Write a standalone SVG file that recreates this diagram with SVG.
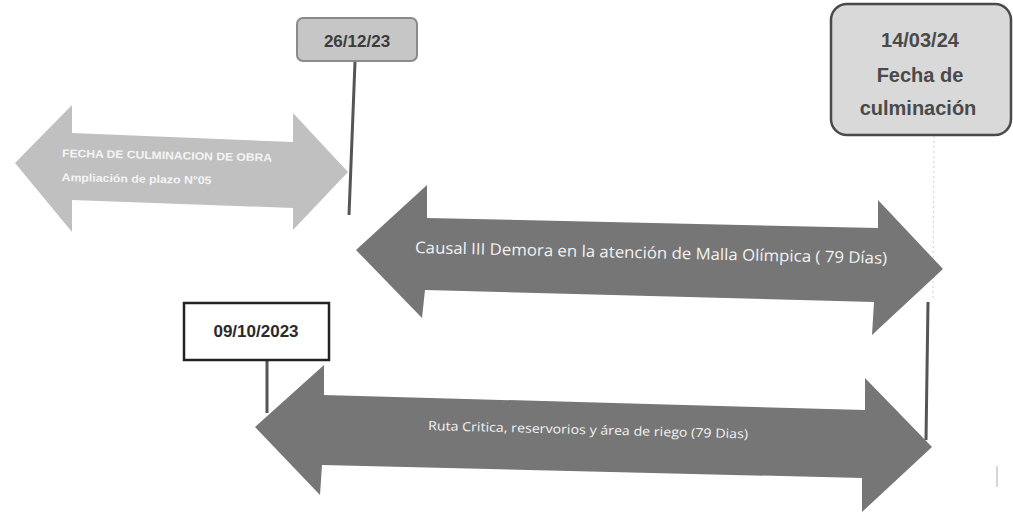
<svg xmlns="http://www.w3.org/2000/svg" width="1013" height="514" viewBox="0 0 1013 514">
  <style>
    .bg { fill: #ffffff; }
    .arrow-light { fill: #c0c0c0; }
    .arrow-dark { fill: #767676; }
    .lbl-light { font-family: "Liberation Sans", Arial, sans-serif; font-weight: bold; font-size: 11px; fill: #f4f4f4; }
    .lbl-dark { font-family: "Open Sans", "Liberation Sans", sans-serif; fill: #f2f2f2; }
    .date { font-family: "Liberation Sans", Arial, sans-serif; font-weight: bold; text-anchor: middle; }
    .stem { stroke: #555555; stroke-width: 3; fill: none; }
    .faint { stroke: #d6d6d6; stroke-width: 1.2; stroke-dasharray: 2 3; fill: none; }
  </style>
  <rect class="bg" x="0" y="0" width="1013" height="514"/>

  <g id="connectors">
    <line class="stem" x1="355" y1="62" x2="349" y2="215"/>
    <line class="faint" x1="934" y1="136" x2="933" y2="298"/>
    <line class="stem" x1="928" y1="302" x2="926" y2="440"/>
    <line class="stem" x1="267" y1="360" x2="267" y2="413"/>
    <line x1="997" y1="466" x2="997" y2="487" stroke="#bbbbbb" stroke-width="1.2"/>
  </g>

  <g id="arrow-ampliacion">
    <polygon class="arrow-light" points="15,163 72,105 72,133 293,142 293,113 348,172 293,230 293,208 72,200 72,232"/>
    <g transform="rotate(1.2 62 157)">
      <text class="lbl-light" x="62" y="157" textLength="210" lengthAdjust="spacingAndGlyphs">FECHA DE CULMINACION DE OBRA</text>
      <text class="lbl-light" x="62" y="181" textLength="150" lengthAdjust="spacingAndGlyphs">Ampliación de plazo N°05</text>
    </g>
  </g>

  <g id="node-26-12-23">
    <rect x="297" y="18" width="120" height="43" rx="6" fill="#c6c6c6" stroke="#8a8a8a" stroke-width="2"/>
    <text class="date" x="357" y="47" font-size="17" fill="#3c3c3c">26/12/23</text>
  </g>

  <g id="node-14-03-24">
    <rect x="831" y="4" width="180" height="131" rx="16" fill="#d9d9d9" stroke="#4a4a4a" stroke-width="2.5"/>
    <text class="date" x="920" y="47" font-size="20" fill="#4a4a4a">14/03/24</text>
    <text class="date" x="920" y="82" font-size="20" fill="#4a4a4a">Fecha de</text>
    <text class="date" x="918" y="115" font-size="20" fill="#4a4a4a">culminación</text>
  </g>

  <g id="arrow-causal">
    <polygon class="arrow-dark" points="356,250 427,185 427,218 878,228 878,200 943,269 872,335 874,302 425,290 422,318"/>
    <text class="lbl-dark" x="415" y="253" font-size="16" textLength="472" lengthAdjust="spacingAndGlyphs" transform="rotate(1.3 415 253)">Causal III Demora en la atención de Malla Olímpica ( 79 Días)</text>
  </g>

  <g id="node-09-10-2023">
    <rect x="184" y="303" width="145" height="57" fill="#ffffff" stroke="#222222" stroke-width="2.5"/>
    <text class="date" x="256" y="337" font-size="17" fill="#2a2a2a">09/10/2023</text>
  </g>

  <g id="arrow-ruta">
    <polygon class="arrow-dark" points="255,427 324,365 324,395 865,410 865,378 932,447 862,512 862,478 322,465 320,495"/>
    <text class="lbl-dark" x="428" y="430" font-size="12.5" textLength="320" lengthAdjust="spacingAndGlyphs" transform="rotate(1.5 428 430)">Ruta Critica, reservorios y área de riego (79 Dias)</text>
  </g>
</svg>
